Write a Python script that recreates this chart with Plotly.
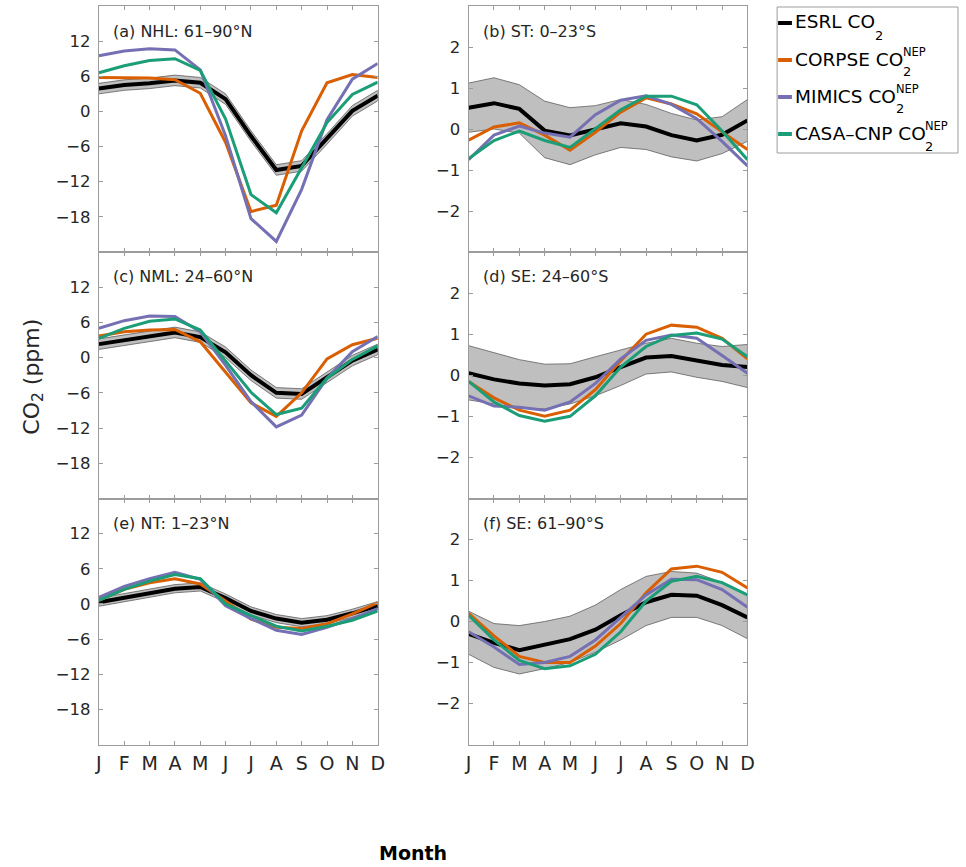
import plotly.graph_objects as go

# ---------------------------------------------------------------------------
# Data: monthly CO2 seasonal-cycle anomalies (ppm)
# ---------------------------------------------------------------------------
months = ["J", "F", "M", "A", "M", "J", "J", "A", "S", "O", "N", "D"]
month_num = list(range(1, 13))

# (a) NHL: 61-90N
esrl_a = [3.9, 4.5, 4.8, 5.3, 4.9, 2.1, -4.2, -10.0, -9.3, -4.7, 0.1, 2.7]
spread_a = [0.9, 0.9, 0.9, 0.9, 0.9, 0.9, 0.9, 0.9, 0.9, 0.9, 0.9, 0.9]
corpse_a = [5.8, 5.8, 5.7, 5.4, 3.1, -5.3, -17.1, -16.0, -3.3, 4.9, 6.3, 5.8]
mimics_a = [9.5, 10.3, 10.7, 10.5, 7.1, -4.2, -18.3, -22.2, -13.3, -1.4, 5.5, 8.2]
casa_a = [6.6, 7.8, 8.7, 9.0, 7.0, -1.3, -14.2, -17.3, -9.6, -1.9, 2.9, 5.0]

# (b) ST: 0-23S
esrl_b = [0.52, 0.63, 0.49, -0.04, -0.16, -0.02, 0.14, 0.06, -0.15, -0.28, -0.14, 0.21]
upper_b = [1.12, 1.25, 1.08, 0.68, 0.52, 0.57, 0.72, 0.60, 0.38, 0.22, 0.30, 0.72]
lower_b = [-0.08, 0.0, -0.10, -0.70, -0.87, -0.63, -0.45, -0.50, -0.68, -0.78, -0.60, -0.30]
corpse_b = [-0.27, 0.05, 0.15, -0.15, -0.52, -0.08, 0.41, 0.76, 0.61, 0.37, -0.07, -0.50]
mimics_b = [-0.75, -0.15, 0.07, -0.10, -0.20, 0.35, 0.70, 0.81, 0.60, 0.25, -0.30, -0.90]
casa_b = [-0.72, -0.28, -0.05, -0.28, -0.45, 0.02, 0.47, 0.80, 0.80, 0.59, -0.05, -0.75]

# (c) NML: 24-60N
esrl_c = [2.3, 3.0, 3.6, 4.3, 3.5, 0.9, -3.0, -6.0, -6.2, -3.4, -0.5, 1.4]
spread_c = [0.9, 0.9, 0.9, 0.9, 0.9, 0.9, 0.9, 0.9, 0.9, 0.9, 0.9, 0.9]
corpse_c = [3.7, 4.4, 4.7, 4.8, 2.7, -2.5, -7.7, -10.0, -6.0, -0.2, 2.2, 3.3]
mimics_c = [5.0, 6.3, 7.1, 7.0, 4.4, -1.3, -7.5, -11.8, -9.8, -3.5, 1.0, 3.6]
casa_c = [3.3, 5.0, 6.2, 6.6, 4.7, -0.5, -5.9, -9.7, -8.6, -3.5, -0.3, 2.0]

# (d) SE: 24-60S
esrl_d = [0.05, -0.10, -0.20, -0.25, -0.22, -0.05, 0.20, 0.43, 0.47, 0.35, 0.25, 0.20]
upper_d = [0.72, 0.55, 0.38, 0.27, 0.28, 0.45, 0.62, 0.78, 0.90, 0.78, 0.70, 0.75]
lower_d = [-0.60, -0.70, -0.80, -0.82, -0.70, -0.50, -0.25, 0.03, 0.08, -0.05, -0.15, -0.30]
corpse_d = [-0.15, -0.55, -0.85, -1.00, -0.85, -0.35, 0.35, 1.00, 1.22, 1.17, 0.90, 0.40]
mimics_d = [-0.50, -0.75, -0.78, -0.85, -0.65, -0.20, 0.40, 0.85, 0.98, 0.90, 0.48, 0.05]
casa_d = [-0.15, -0.65, -0.98, -1.12, -1.00, -0.50, 0.20, 0.70, 0.97, 1.03, 0.88, 0.45]

# (e) NT: 1-23N
esrl_e = [0.3, 1.1, 1.8, 2.6, 2.9, 1.0, -1.2, -2.5, -3.2, -2.7, -1.6, -0.3]
spread_e = [0.7, 0.7, 0.7, 0.7, 0.7, 0.7, 0.7, 0.7, 0.7, 0.7, 0.7, 0.7]
corpse_e = [0.6, 2.5, 3.6, 4.3, 3.4, 0.5, -2.6, -4.0, -4.2, -3.4, -1.7, 0.2]
mimics_e = [1.1, 3.0, 4.3, 5.4, 4.2, -0.3, -2.5, -4.5, -5.2, -4.0, -2.5, -0.8]
casa_e = [0.6, 2.5, 3.9, 5.0, 4.3, 0.0, -2.0, -3.8, -4.6, -3.8, -2.8, -1.2]

# (f) SE: 61-90S
esrl_f = [-0.30, -0.52, -0.70, -0.57, -0.43, -0.20, 0.15, 0.47, 0.65, 0.63, 0.40, 0.10]
upper_f = [0.25, -0.05, -0.10, 0.00, 0.13, 0.40, 0.78, 1.10, 1.22, 1.18, 0.95, 0.65]
lower_f = [-0.80, -1.12, -1.28, -1.15, -1.00, -0.75, -0.45, -0.10, 0.10, 0.10, -0.10, -0.42]
corpse_f = [0.20, -0.35, -0.85, -1.00, -1.00, -0.60, -0.05, 0.70, 1.28, 1.35, 1.20, 0.82]
mimics_f = [-0.25, -0.62, -1.05, -1.00, -0.85, -0.45, 0.10, 0.65, 1.03, 1.02, 0.78, 0.35]
casa_f = [0.15, -0.45, -0.95, -1.15, -1.08, -0.80, -0.25, 0.50, 0.98, 1.10, 0.95, 0.65]

panel_titles = ["(a) NHL: 61\u201390\u00b0N", "(b) ST: 0\u201323\u00b0S",
                "(c) NML: 24\u201360\u00b0N", "(d) SE: 24\u201360\u00b0S",
                "(e) NT: 1\u201323\u00b0N", "(f) SE: 61\u201390\u00b0S"]

north_ticks = [-18, -12, -6, 0, 6, 12]
south_ticks = [-2, -1, 0, 1, 2]

legend_names = ["ESRL CO", "CORPSE CO", "MIMICS CO", "CASA\u2013CNP CO"]

# ---------------------------------------------------------------------------
# Styling
# ---------------------------------------------------------------------------
W, H = 966, 867
FONT = "DejaVu Sans"
TXT = "#262626"
AX = "#9c9c9c"
C_ESRL = "#000000"
C_CORPSE = "#D95F02"
C_MIMICS = "#7570B3"
C_CASA = "#1B9E77"
model_colors = [C_CORPSE, C_MIMICS, C_CASA]


def fx(px):
    return px / W


def fy(py):
    return 1 - py / H


col_px = [(96, 378), (470, 752)]
row_px = [(6, 252), (252, 498.5), (498.5, 744.5)]


def north_band(mid, s):
    return [m + d for m, d in zip(mid, s)], [m - d for m, d in zip(mid, s)]


ua, la = north_band(esrl_a, spread_a)
uc, lc = north_band(esrl_c, spread_c)
ue, le = north_band(esrl_e, spread_e)

panels = [
    dict(esrl=esrl_a, up=ua, lo=la, models=[corpse_a, mimics_a, casa_a], north=True),
    dict(esrl=esrl_b, up=upper_b, lo=lower_b, models=[corpse_b, mimics_b, casa_b], north=False),
    dict(esrl=esrl_c, up=uc, lo=lc, models=[corpse_c, mimics_c, casa_c], north=True),
    dict(esrl=esrl_d, up=upper_d, lo=lower_d, models=[corpse_d, mimics_d, casa_d], north=False),
    dict(esrl=esrl_e, up=ue, lo=le, models=[corpse_e, mimics_e, casa_e], north=True),
    dict(esrl=esrl_f, up=upper_f, lo=lower_f, models=[corpse_f, mimics_f, casa_f], north=False),
]

fig = go.Figure()
layout = dict(
    width=W, height=H, margin=dict(l=0, r=0, t=0, b=0),
    paper_bgcolor="white", plot_bgcolor="white", showlegend=False,
    font=dict(family=FONT, color=TXT),
)
annotations = []
shapes = []

for i, p in enumerate(panels):
    r, c = divmod(i, 2)
    n = i + 1
    xa = "x" if n == 1 else f"x{n}"
    ya = "y" if n == 1 else f"y{n}"
    # uncertainty band around the observed cycle
    fig.add_trace(go.Scatter(
        x=month_num + month_num[::-1], y=p["up"] + p["lo"][::-1],
        xaxis=xa, yaxis=ya, mode="lines", fill="toself",
        fillcolor="#bfbfbf", line=dict(color="#4d4d4d", width=0.7),
        hoverinfo="skip"))
    fig.add_trace(go.Scatter(x=month_num, y=p["esrl"], xaxis=xa, yaxis=ya,
                             mode="lines", line=dict(color=C_ESRL, width=4)))
    for vals, colr in zip(p["models"], model_colors):
        fig.add_trace(go.Scatter(x=month_num, y=vals, xaxis=xa, yaxis=ya,
                                 mode="lines", line=dict(color=colr, width=3)))

    x0, x1 = col_px[c]
    y0, y1 = row_px[r]
    ticks = north_ticks if p["north"] else south_ticks
    yr = [-24, 18] if p["north"] else [-3, 3]
    layout[f"xaxis{n if n > 1 else ''}"] = dict(
        domain=[fx(x0), fx(x1)], anchor=ya, range=[1, 12],
        tickvals=month_num, ticktext=months, showticklabels=(r == 2),
        ticks="inside", ticklen=4, tickcolor=AX, showline=True, linecolor=AX,
        linewidth=1, mirror="ticks", showgrid=False, zeroline=False,
        tickfont=dict(family=FONT, size=19, color=TXT), ticklabelstandoff=2)
    layout[f"yaxis{n if n > 1 else ''}"] = dict(
        domain=[fy(y1), fy(y0)], anchor=xa, range=yr,
        tickvals=ticks,
        ticktext=[("\u2212" + str(-t)) if t < 0 else str(t) for t in ticks],
        ticks="inside", ticklen=4, tickcolor=AX, showline=True, linecolor=AX,
        linewidth=1, mirror="ticks", showgrid=False, zeroline=False,
        tickfont=dict(family=FONT, size=16.5, color=TXT), ticklabelstandoff=4)
    annotations.append(dict(
        text=panel_titles[i], xref="paper", yref="paper",
        x=fx(x0 + 12), y=fy(y0 + 25), xanchor="left", yanchor="middle",
        showarrow=False, font=dict(family=FONT, size=16, color=TXT)))

# Shared axis labels
annotations.append(dict(
    text="CO<sub>2</sub> (ppm)", xref="paper", yref="paper", x=fx(29), y=fy(377),
    textangle=-90, xanchor="center", yanchor="middle", showarrow=False,
    font=dict(family=FONT, size=22, color=TXT)))
annotations.append(dict(
    text="<b>Month</b>", xref="paper", yref="paper", x=fx(414), y=fy(853),
    xanchor="center", yanchor="middle", showarrow=False,
    font=dict(family=FONT, size=19, color="#000000")))

# Legend box with short line keys and stacked sub/superscripts
LX0, LX1, LY0, LY1 = 782, 965, 7, 153
shapes.append(dict(type="rect", xref="paper", yref="paper",
                   x0=fx(LX0), x1=fx(LX1), y0=fy(LY1), y1=fy(LY0),
                   line=dict(color=AX, width=1), fillcolor="white"))
row_y = [23, 60, 97, 134]
leg_colors = [C_ESRL, C_CORPSE, C_MIMICS, C_CASA]
LEG_FS = 18.5
# DejaVu Sans advance widths (em) used to place the stacked scripts
adv = {"C": .698, "O": .787, "R": .695, "P": .603, "S": .635, "E": .632,
       "M": .863, "I": .295, "A": .684, "N": .748, "L": .557, " ": .318,
       "\u2013": .5}
for name, colr, yy in zip(legend_names, leg_colors, row_y):
    shapes.append(dict(type="line", xref="paper", yref="paper",
                       x0=fx(783), x1=fx(797), y0=fy(yy), y1=fy(yy),
                       line=dict(color=colr, width=4)))
    annotations.append(dict(
        text=name, xref="paper", yref="paper", x=fx(798), y=fy(yy - 1),
        xanchor="left", yanchor="middle", showarrow=False,
        font=dict(family=FONT, size=LEG_FS, color="#000000")))
    xe = 798 + sum(adv[ch] for ch in name) * LEG_FS + 1
    annotations.append(dict(
        text="2", xref="paper", yref="paper", x=fx(xe), y=fy(yy + 12),
        xanchor="left", yanchor="middle", showarrow=False,
        font=dict(family=FONT, size=13, color="#000000")))
    if name != legend_names[0]:
        annotations.append(dict(
            text="NEP", xref="paper", yref="paper", x=fx(xe), y=fy(yy - 8),
            xanchor="left", yanchor="middle", showarrow=False,
            font=dict(family=FONT, size=11.5, color="#000000")))

layout["annotations"] = annotations
layout["shapes"] = shapes
fig.update_layout(**layout)
fig.write_html("out.html")
